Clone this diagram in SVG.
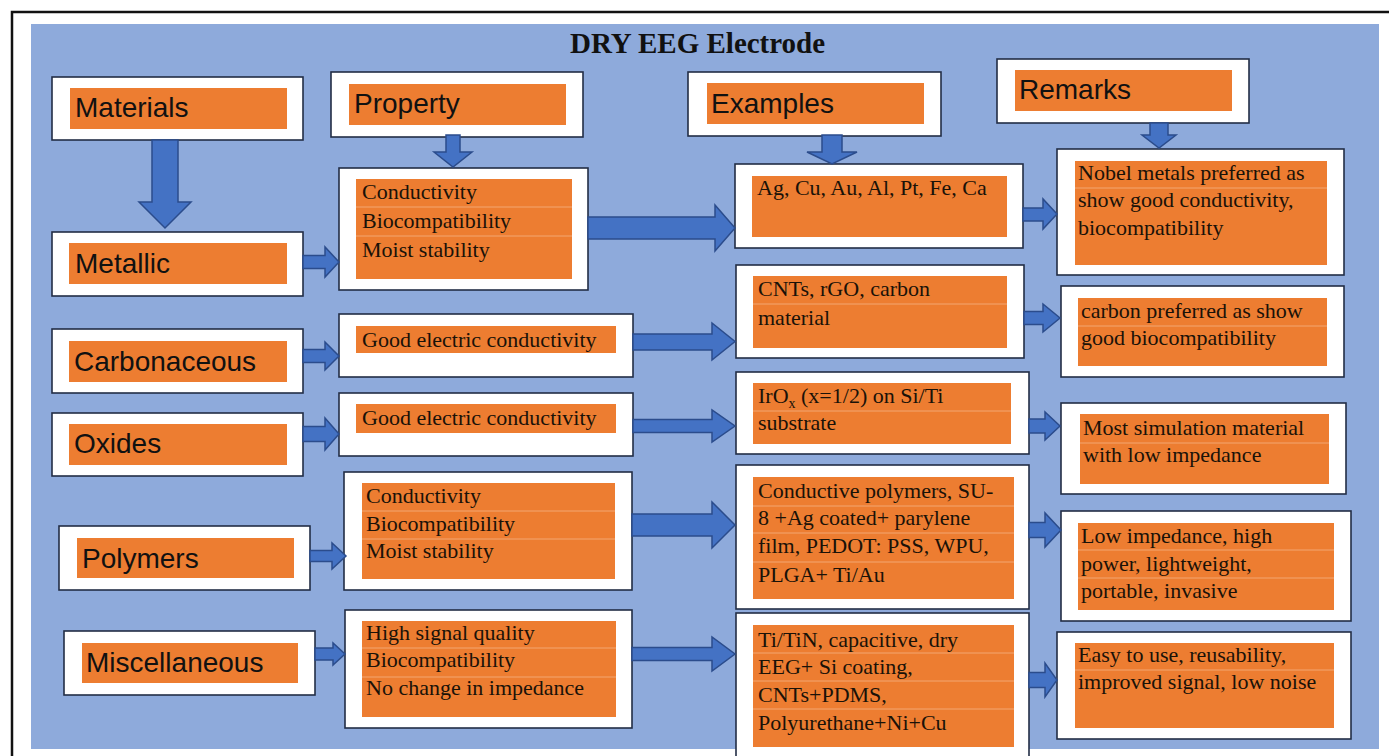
<svg xmlns="http://www.w3.org/2000/svg" width="1389" height="756" viewBox="0 0 1389 756">
<style>
.box{fill:#fff;stroke:#222d45;stroke-width:1.6}
.or{fill:#ED7D31}
.sep{stroke:#F3A772;stroke-width:1}
.hd{font-family:"Liberation Sans",Arial,sans-serif;font-size:28px;fill:#111}
.tx{font-family:"Liberation Serif","Times New Roman",serif;font-size:22px;fill:#1a1208}
.ttl{font-family:"Liberation Serif","Times New Roman",serif;font-size:29px;font-weight:bold;fill:#111}
.ar{fill:#4472C4;stroke:#2B4C8C;stroke-width:1.5;stroke-linejoin:miter}
</style>
<rect x="0" y="0" width="1389" height="756" fill="#fff"/>
<path d="M12 756 V12 H1389" fill="none" stroke="#111" stroke-width="2.5"/>
<rect x="31" y="24" width="1348" height="725" fill="#8EAADB"/>
<text class="ttl" x="570" y="53">DRY EEG Electrode</text>

<g id="materials"><rect class="box" x="52" y="77" width="251" height="63"/><rect class="or" x="70" y="88" width="217" height="41"/><text class="hd" x="75" y="117">Materials</text></g>
<g id="property"><rect class="box" x="331" y="72" width="252" height="65"/><rect class="or" x="349" y="84" width="217" height="41"/><text class="hd" x="354" y="113">Property</text></g>
<g id="examples"><rect class="box" x="688" y="72" width="253" height="64"/><rect class="or" x="707" y="83" width="217" height="41"/><text class="hd" x="711" y="113">Examples</text></g>
<g id="remarks"><rect class="box" x="997" y="59" width="252" height="64"/><rect class="or" x="1015" y="70" width="217" height="41"/><text class="hd" x="1019" y="99">Remarks</text></g>

<g id="metallic"><rect class="box" x="52" y="232" width="251" height="64"/><rect class="or" x="69" y="243" width="218" height="41"/><text class="hd" x="75" y="273">Metallic</text></g>
<g id="carbonaceous"><rect class="box" x="52" y="329" width="251" height="64"/><rect class="or" x="69" y="341" width="218" height="41"/><text class="hd" x="74" y="371">Carbonaceous</text></g>
<g id="oxides"><rect class="box" x="52" y="413" width="251" height="63"/><rect class="or" x="69" y="424" width="218" height="41"/><text class="hd" x="74" y="453">Oxides</text></g>
<g id="polymers"><rect class="box" x="59" y="526" width="251" height="64"/><rect class="or" x="77" y="538" width="217" height="40"/><text class="hd" x="82" y="568">Polymers</text></g>
<g id="miscellaneous"><rect class="box" x="64" y="631" width="251" height="64"/><rect class="or" x="82" y="643" width="216" height="40"/><text class="hd" x="86" y="672">Miscellaneous</text></g>

<g id="prop-metallic"><rect class="box" x="339" y="168" width="249" height="122"/><rect class="or" x="356" y="179" width="216" height="100"/><line class="sep" x1="356" y1="207" x2="572" y2="207"/><line class="sep" x1="356" y1="236" x2="572" y2="236"/><text class="tx" x="362" y="199">Conductivity</text><text class="tx" x="362" y="228">Biocompatibility</text><text class="tx" x="362" y="257">Moist stability</text></g>
<g id="prop-carbon"><rect class="box" x="339" y="314" width="294" height="63"/><rect class="or" x="356" y="326" width="260" height="27"/><text class="tx" x="362" y="347">Good electric conductivity</text></g>
<g id="prop-oxides"><rect class="box" x="339" y="393" width="294" height="63"/><rect class="or" x="356" y="404" width="260" height="29"/><text class="tx" x="362" y="425">Good electric conductivity</text></g>
<g id="prop-polymers"><rect class="box" x="344" y="472" width="288" height="118"/><rect class="or" x="362" y="483" width="253" height="96"/><line class="sep" x1="362" y1="511" x2="615" y2="511"/><line class="sep" x1="362" y1="539" x2="615" y2="539"/><text class="tx" x="366" y="503">Conductivity</text><text class="tx" x="366" y="531">Biocompatibility</text><text class="tx" x="366" y="558">Moist stability</text></g>
<g id="prop-misc"><rect class="box" x="345" y="610" width="287" height="118"/><rect class="or" x="362" y="621" width="254" height="96"/><line class="sep" x1="362" y1="648" x2="616" y2="648"/><line class="sep" x1="362" y1="677" x2="616" y2="677"/><text class="tx" x="366" y="640">High signal quality</text><text class="tx" x="366" y="667">Biocompatibility</text><text class="tx" x="366" y="695">No change in impedance</text></g>

<g id="ex-metallic"><rect class="box" x="735" y="164" width="288" height="84"/><rect class="or" x="752" y="176" width="255" height="61"/><text class="tx" x="757" y="195">Ag, Cu, Au, Al, Pt, Fe, Ca</text></g>
<g id="ex-carbon"><rect class="box" x="736" y="265" width="288" height="93"/><rect class="or" x="753" y="276" width="254" height="72"/><line class="sep" x1="753" y1="304" x2="1007" y2="304"/><text class="tx" x="758" y="296">CNTs, rGO, carbon</text><text class="tx" x="758" y="325">material</text></g>
<g id="ex-oxides"><rect class="box" x="736" y="372" width="293" height="82"/><rect class="or" x="753" y="383" width="258" height="61"/><line class="sep" x1="753" y1="411" x2="1011" y2="411"/><text class="tx" x="758" y="403">IrO<tspan font-size="14" dy="5">x</tspan><tspan dy="-5"> (x=1/2) on Si/Ti</tspan></text><text class="tx" x="758" y="430">substrate</text></g>
<g id="ex-polymers"><rect class="box" x="736" y="465" width="293" height="144"/><rect class="or" x="753" y="477" width="261" height="122"/><line class="sep" x1="753" y1="506" x2="1014" y2="506"/><line class="sep" x1="753" y1="533" x2="1014" y2="533"/><line class="sep" x1="753" y1="562" x2="1014" y2="562"/><text class="tx" x="758" y="498">Conductive polymers, SU-</text><text class="tx" x="758" y="525">8 +Ag coated+ parylene</text><text class="tx" x="758" y="553">film, PEDOT: PSS, WPU,</text><text class="tx" x="758" y="582">PLGA+ Ti/Au</text></g>
<g id="ex-misc"><rect class="box" x="736" y="613" width="293" height="150"/><rect class="or" x="753" y="625" width="261" height="122"/><line class="sep" x1="753" y1="653" x2="1014" y2="653"/><line class="sep" x1="753" y1="681" x2="1014" y2="681"/><line class="sep" x1="753" y1="709" x2="1014" y2="709"/><text class="tx" x="758" y="647">Ti/TiN, capacitive, dry</text><text class="tx" x="758" y="674">EEG+ Si coating,</text><text class="tx" x="758" y="702">CNTs+PDMS,</text><text class="tx" x="758" y="730">Polyurethane+Ni+Cu</text></g>

<g id="rem-metallic"><rect class="box" x="1057" y="149" width="287" height="126"/><rect class="or" x="1075" y="161" width="252" height="104"/><line class="sep" x1="1075" y1="188" x2="1327" y2="188"/><text class="tx" x="1078" y="180">Nobel metals preferred as</text><text class="tx" x="1078" y="207">show good conductivity,</text><text class="tx" x="1078" y="235">biocompatibility</text></g>
<g id="rem-carbon"><rect class="box" x="1061" y="286" width="283" height="91"/><rect class="or" x="1078" y="298" width="249" height="68"/><line class="sep" x1="1078" y1="326" x2="1327" y2="326"/><text class="tx" x="1081" y="318">carbon preferred as show</text><text class="tx" x="1081" y="345">good biocompatibility</text></g>
<g id="rem-oxides"><rect class="box" x="1061" y="403" width="285" height="91"/><rect class="or" x="1080" y="414" width="249" height="70"/><line class="sep" x1="1080" y1="443" x2="1329" y2="443"/><text class="tx" x="1083" y="435">Most simulation material</text><text class="tx" x="1083" y="462">with low impedance</text></g>
<g id="rem-polymers"><rect class="box" x="1061" y="511" width="290" height="110"/><rect class="or" x="1078" y="523" width="256" height="87"/><line class="sep" x1="1078" y1="550" x2="1334" y2="550"/><line class="sep" x1="1078" y1="578" x2="1334" y2="578"/><text class="tx" x="1081" y="543">Low impedance, high</text><text class="tx" x="1081" y="571">power, lightweight,</text><text class="tx" x="1081" y="598">portable, invasive</text></g>
<g id="rem-misc"><rect class="box" x="1057" y="632" width="294" height="107"/><rect class="or" x="1075" y="643" width="259" height="85"/><line class="sep" x1="1075" y1="670" x2="1334" y2="670"/><text class="tx" x="1078" y="662">Easy to use, reusability,</text><text class="tx" x="1078" y="689">improved signal, low noise</text></g>

<g id="connectors">
<polygon class="ar" points="152,140 178,140 178,202 191,202 165,228 139,202 152,202"/>
<polygon class="ar" points="446,135 460,135 460,152 472,152 453,167 434,152 446,152"/>
<polygon class="ar" points="822,135 842,135 842,152 857,152 832,164 807,152 822,152"/>
<polygon class="ar" points="1150,123 1168,123 1168,135 1176,135 1159,148 1142,135 1150,135"/>
<polygon class="ar" points="303,255.5 325,255.5 325,247 339,262 325,277 325,268.5 303,268.5"/>
<polygon class="ar" points="588,217 715,217 715,205 735,228 715,251 715,239 588,239"/>
<polygon class="ar" points="1023,208 1043,208 1043,199 1057,214 1043,229 1043,221 1023,221"/>
<polygon class="ar" points="303,349.5 325,349.5 325,342 339,356 325,370 325,362.5 303,362.5"/>
<polygon class="ar" points="633,334 712,334 712,323 735,341.5 712,360 712,350 633,350"/>
<polygon class="ar" points="1024,311.5 1043,311.5 1043,304 1060,318 1043,332 1043,324.5 1024,324.5"/>
<polygon class="ar" points="303,426.5 325,426.5 325,418 339,434 325,450 325,441.5 303,441.5"/>
<polygon class="ar" points="633,419.5 712,419.5 712,410 735,426 712,442 712,432.5 633,432.5"/>
<polygon class="ar" points="1029,419 1045,419 1045,412 1060,426 1045,440 1045,433 1029,433"/>
<polygon class="ar" points="310,550.5 332,550.5 332,543 346,556 332,569 332,561.5 310,561.5"/>
<polygon class="ar" points="632,514 712,514 712,502 735,525 712,548 712,536 632,536"/>
<polygon class="ar" points="1029,522.5 1045,522.5 1045,513 1061,530 1045,547 1045,537.5 1029,537.5"/>
<polygon class="ar" points="315,648 333,648 333,643 345,654 333,665 333,660 315,660"/>
<polygon class="ar" points="632,647.5 712,647.5 712,637 735,654 712,671 712,660.5 632,660.5"/>
<polygon class="ar" points="1029,672.5 1045,672.5 1045,663 1057,680 1045,697 1045,687.5 1029,687.5"/>
</g>
</svg>
